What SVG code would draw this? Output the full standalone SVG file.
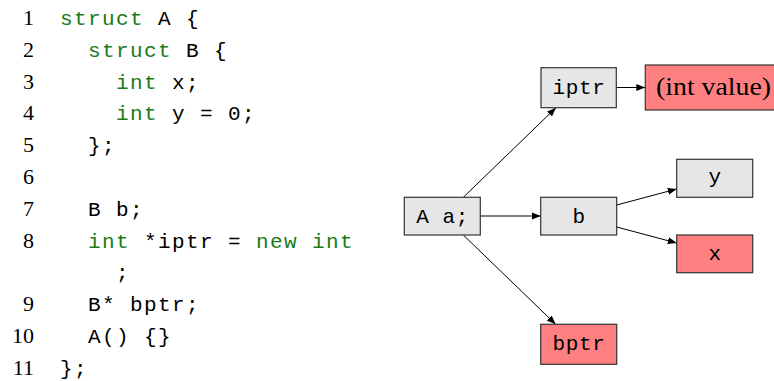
<svg xmlns="http://www.w3.org/2000/svg" width="774" height="381" viewBox="0 0 774 381">
<style>
.num{font-family:"Liberation Serif",serif;font-size:22px;text-anchor:end;fill:#000}
.code{font-family:"Liberation Mono",monospace;font-size:21px;letter-spacing:1.4px;fill:#000}
.kw{fill:#1a7a1a}
.box{stroke:#333;stroke-width:1.2}
.gray{fill:#e6e6e6}
.red{fill:#ff8080}
.lbl{font-family:"Liberation Mono",monospace;font-size:21px;letter-spacing:0.6px;text-anchor:middle;fill:#000}
.edge{stroke:#000;stroke-width:1;fill:none;marker-end:url(#ah)}
</style>
<defs>
<marker id="ah" markerUnits="userSpaceOnUse" markerWidth="10" markerHeight="8" refX="9" refY="4" orient="auto">
<path d="M0,0.5 L9,4 L0,7.5 Z" fill="#000"/>
</marker>
</defs>
<rect width="774" height="381" fill="#fff"/>
<g id="code">
<text class="num" x="34" y="25">1</text>
<text class="num" x="34" y="56.8">2</text>
<text class="num" x="34" y="88.6">3</text>
<text class="num" x="34" y="120.4">4</text>
<text class="num" x="34" y="152.2">5</text>
<text class="num" x="34" y="184">6</text>
<text class="num" x="34" y="215.8">7</text>
<text class="num" x="34" y="247.6">8</text>
<text class="num" x="34" y="311.2">9</text>
<text class="num" x="34" y="343">10</text>
<text class="num" x="34" y="374.8">11</text>
<text class="code" x="60" y="25" xml:space="preserve"><tspan class="kw">struct</tspan> A {</text>
<text class="code" x="88" y="56.8" xml:space="preserve"><tspan class="kw">struct</tspan> B {</text>
<text class="code" x="116" y="88.6" xml:space="preserve"><tspan class="kw">int</tspan> x;</text>
<text class="code" x="116" y="120.4" xml:space="preserve"><tspan class="kw">int</tspan> y = 0;</text>
<text class="code" x="88" y="152.2" xml:space="preserve">};</text>
<text class="code" x="88" y="215.8" xml:space="preserve">B b;</text>
<text class="code" x="88" y="247.6" xml:space="preserve"><tspan class="kw">int</tspan> *iptr = <tspan class="kw">new int</tspan></text>
<text class="code" x="116" y="279.4" xml:space="preserve">;</text>
<text class="code" x="88" y="311.2" xml:space="preserve">B* bptr;</text>
<text class="code" x="88" y="343" xml:space="preserve">A() {}</text>
<text class="code" x="60" y="374.8" xml:space="preserve">};</text>
</g>
<g id="edges">
<line class="edge" x1="463.3" y1="197.3" x2="556" y2="107.7"/>
<line class="edge" x1="480.3" y1="216" x2="540.7" y2="216"/>
<line class="edge" x1="463.3" y1="235" x2="555.7" y2="324.3"/>
<line class="edge" x1="616.7" y1="205" x2="676.7" y2="189"/>
<line class="edge" x1="616.7" y1="227" x2="676.7" y2="243"/>
<line class="edge" x1="616.3" y1="87.5" x2="645.3" y2="87.5"/>
</g>
<g id="node-a">
<rect class="box gray" x="404.3" y="197.3" width="76" height="37.7"/>
<text class="lbl" x="442.6" y="223">A a;</text>
</g>
<g id="node-b">
<rect class="box gray" x="540.7" y="197.3" width="76" height="37.7"/>
<text class="lbl" x="579" y="223">b</text>
</g>
<g id="node-y">
<rect class="box gray" x="676.7" y="159.3" width="76" height="38"/>
<text class="lbl" x="715" y="183">y</text>
</g>
<g id="node-x">
<rect class="box red" x="676.7" y="235" width="76" height="37.7"/>
<text class="lbl" x="715" y="260">x</text>
</g>
<g id="node-bptr">
<rect class="box red" x="540.7" y="324.3" width="76" height="40"/>
<text class="lbl" x="579" y="350">bptr</text>
</g>
<g id="node-iptr">
<rect class="box gray" x="541" y="67.7" width="75.3" height="40"/>
<text class="lbl" x="579" y="94">iptr</text>
</g>
<g id="node-intvalue">
<rect class="box red" x="645.3" y="65" width="140" height="45"/>
<text x="656" y="95" font-family="Liberation Serif, serif" font-size="25" textLength="115" lengthAdjust="spacingAndGlyphs" fill="#000">(int value)</text>
</g>
</svg>
